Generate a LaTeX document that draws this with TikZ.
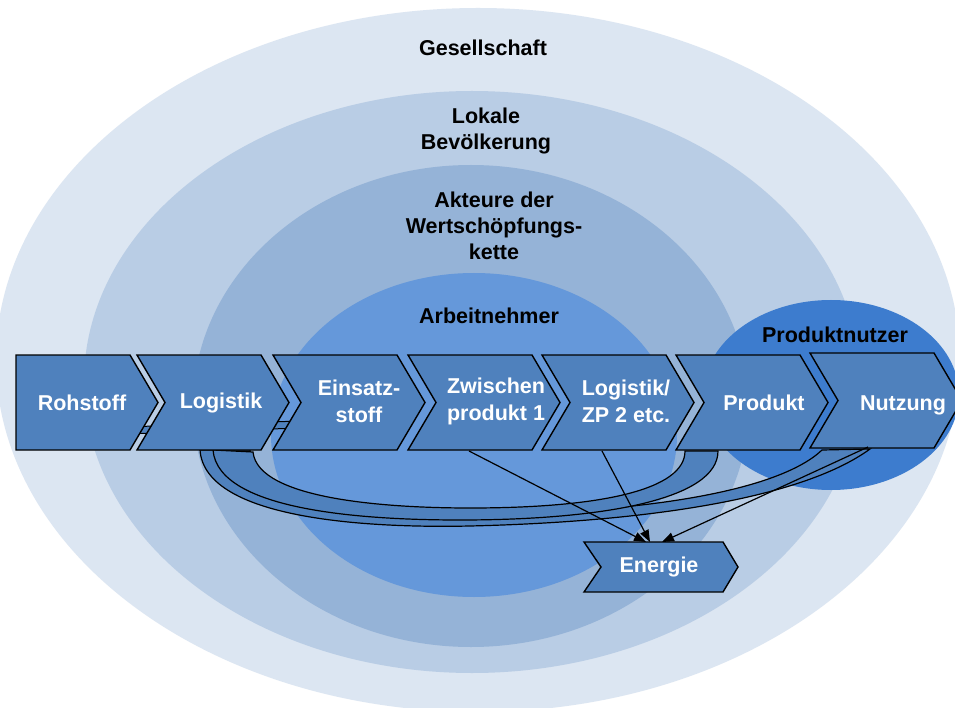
\documentclass[tikz,border=0pt]{standalone}
\usepackage{fontspec}
\setmainfont{Liberation Sans}
\usetikzlibrary{arrows.meta}
\definecolor{cGes}{HTML}{DCE6F2}
\definecolor{cLok}{HTML}{B9CDE5}
\definecolor{cAkt}{HTML}{95B3D7}
\definecolor{cArb}{HTML}{6598DA}
\definecolor{cNut}{HTML}{3D7CCE}
\definecolor{cChev}{HTML}{4F81BD}
\tikzset{
  chev/.style={fill=cChev, draw=black, line width=1.4pt, line join=miter},
  band/.style={fill=cChev, draw=black, line width=1.2pt},
  lbl/.style={font=\fontsize{21.5}{27}\selectfont\bfseries, text=white, align=center, inner sep=0pt},
  hdr/.style={font=\fontsize{21.5}{26}\selectfont\bfseries, text=black, align=center, inner sep=0pt},
  conn/.style={draw=black, line width=1.2pt, -{Triangle[length=12pt,width=9pt]}},
}
\begin{document}
\begin{tikzpicture}[x=1pt,y=-1pt]
\useasboundingbox (0,0) rectangle (955,708);
\clip (0,0) rectangle (955,708);
\fill[white] (0,0) rectangle (955,708);
% nested ellipses
\fill[cGes] (478,360) ellipse [x radius=482, y radius=352];
\fill[cLok] (472,382) ellipse [x radius=388, y radius=291];
\fill[cAkt] (471,406) ellipse [x radius=278, y radius=241];
\fill[cArb] (474,435) ellipse [x radius=203, y radius=162];
\fill[cNut] (831,395) ellipse [x radius=128, y radius=95];
% headers
\node[hdr] (ges) at (483,48) {Gesellschaft};
\node[hdr] (lok) at (486,131) {Lokale\\Bevölkerung};
\node[hdr] (akt) at (494,226) {Akteure der\\Wertschöpfungs-\\kette};
\node[hdr] (arb) at (489,316) {Arbeitnehmer};
\node[hdr] (pnu) at (835,335) {Produktnutzer};
% thin strip behind chevrons
\fill[cChev] (125,427) -- (300,421) -- (300,428) -- (125,434) -- cycle;
\draw[black, line width=1pt] (125,427) -- (300,421);
\draw[black, line width=1pt] (125,434) -- (300,428);
% curved bands
\draw[band] (200,450) .. controls (205,522) and (380,528) .. (470,526)
  .. controls (640,522) and (800,500) .. (870,449)
  -- (822,450) .. controls (780,490) and (650,512) .. (490,514)
  .. controls (400,515) and (255,505) .. (250,450) -- cycle;
\draw[band] (213,450) .. controls (218,512) and (370,520) .. (460,520)
  .. controls (600,520) and (718,500) .. (718,451)
  -- (685,451) .. controls (685,490) and (600,508) .. (470,508)
  .. controls (390,508) and (258,500) .. (253,452) -- cycle;
% chevrons
\draw[chev] (16,355) -- (130,355) -- (158,402.5) -- (130,450) -- (16,450) -- cycle;
\foreach \X/\Y in {137/355, 273/355, 408/355, 542/355, 676/355, 810/353}{
  \draw[chev] (\X,\Y) -- ++(124,0) -- ++(28,47.5) -- ++(-28,47.5) -- ++(-124,0) -- ++(28,-47.5) -- cycle;
}
\draw[chev] (584,542) -- (723,542) -- (738,567) -- (723,592) -- (584,592) -- (601,567) -- cycle;
% chevron labels
\node[lbl] (roh) at (82,403) {Rohstoff};
\node[lbl] (log) at (221,403) {Logistik};
\node[lbl] (ein) at (359,401) {Einsatz-\\stoff};
\node[lbl] (zwi) at (496,401) {Zwischen\\produkt 1};
\node[lbl] (lzp) at (626,401) {Logistik/\\ZP 2 etc.};
\node[lbl] (pro) at (764,403) {Produkt};
\node[lbl] (nut) at (903,405) {Nutzung};
\node[lbl] (ene) at (659,567) {Energie};
% connector endpoints
\coordinate (zwB) at (469,451);
\coordinate (lzB) at (602,451);
\coordinate (nuB) at (868,447);
\coordinate (enA) at (646,542);
\coordinate (enB) at (650,542);
\coordinate (enC) at (662,542);
\draw[conn] (zwB) -- (enA);
\draw[conn] (lzB) -- (enB);
\draw[conn] (nuB) -- (enC);
\end{tikzpicture}
\end{document}
